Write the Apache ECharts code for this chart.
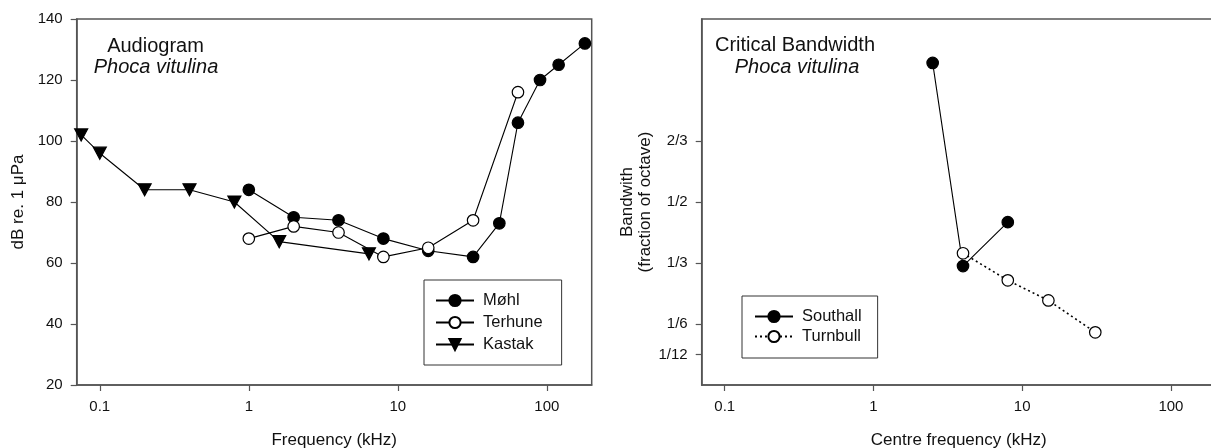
<!DOCTYPE html>
<html>
<head>
<meta charset="utf-8">
<title>Phoca vitulina - audiogram and critical bandwidth</title>
<script src="https://cdn.jsdelivr.net/npm/echarts@6/dist/echarts.min.js"></script>
<style>
  html, body { margin: 0; padding: 0; background: #fff; }
  #chart { width: 1211px; height: 448px; }
</style>
</head>
<body>
<div id="chart"></div>
<script>
// audiogram: [frequency kHz, dB re. 1 uPa]
const mohl = [[1, 84], [2, 75], [4, 74], [8, 68], [16, 64], [32, 62], [48, 73], [64, 106], [90, 120], [120, 125], [180, 132]]
const terhune = [[1, 68], [2, 72], [4, 70], [8, 62], [16, 65], [32, 74], [64, 116]]
const kastak = [[0.075, 102], [0.1, 96], [0.2, 84], [0.4, 84], [0.8, 80], [1.6, 67], [6.4, 63]]

// critical bandwidth: [centre frequency kHz, fraction of octave]
const southall = [[2.5, 0.88], [4, 0.325], [8, 0.445]]
const turnbull = [[4, 0.36], [8, 0.286], [15, 0.231], [31, 0.144]]

const freqTicks = [0.1, 1, 10, 100]
const bwTicks = [1 / 12, 1 / 6, 1 / 3, 1 / 2, 2 / 3]
const bwTickLabels = ['1/12', '1/6', '1/3', '1/2', '2/3']

const FONT = '"Liberation Sans", Arial, sans-serif'
const AXIS_COLOR = '#555'

function axisBase() {
  return {
    axisLine: { show: true, lineStyle: { color: AXIS_COLOR, width: 1.5 } },
    axisTick: { show: true, inside: false, length: 6, lineStyle: { color: AXIS_COLOR, width: 1.2 } },
    axisLabel: { color: '#111', fontSize: 15, fontFamily: FONT, margin: 14 },
    splitLine: { show: false },
    nameTextStyle: { color: '#111', fontSize: 17, fontFamily: FONT }
  }
}

function freqAxis(gridIndex, name) {
  const a = axisBase()
  return Object.assign(a, {
    type: 'log',
    gridIndex: gridIndex,
    logBase: 10,
    min: 0.07,
    max: 200,
    name: name,
    nameLocation: 'middle',
    nameGap: 47,
    axisTick: Object.assign(a.axisTick, { customValues: freqTicks }),
    axisLabel: Object.assign(a.axisLabel, {
      customValues: freqTicks,
      margin: 14,
      formatter: v => String(+v.toPrecision(3))
    })
  })
}

function lineSeries(name, data, filled, extra) {
  return Object.assign({
    name: name,
    type: 'line',
    data: data,
    symbol: 'circle',
    symbolSize: 11.5,
    showAllSymbol: true,
    animation: false,
    lineStyle: { color: '#000', width: 1.1 },
    itemStyle: { color: filled ? '#000' : '#fff', borderColor: '#000', borderWidth: 1.2, opacity: 1 }
  }, extra || {})
}

const chart = echarts.init(document.getElementById('chart'), null, { renderer: 'canvas' })

chart.setOption({
  backgroundColor: '#fff',
  textStyle: { fontFamily: FONT },
  grid: [
    { left: 76.7, top: 19, width: 515, height: 366, outerBoundsMode: 'none', containLabel: false, show: true, borderColor: AXIS_COLOR, borderWidth: 1.5 },
    { left: 701.7, top: 19, width: 514, height: 366, outerBoundsMode: 'none', containLabel: false, show: true, borderColor: AXIS_COLOR, borderWidth: 1.5 }
  ],
  xAxis: [
    freqAxis(0, 'Frequency (kHz)'),
    freqAxis(1, 'Centre frequency (kHz)')
  ],
  yAxis: [
    Object.assign(axisBase(), {
      type: 'value',
      gridIndex: 0,
      min: 20,
      max: 140,
      interval: 20,
      name: 'dB re. 1 \u03bcPa',
      nameLocation: 'middle',
      nameGap: 50
    }),
    (function () {
      const a = axisBase()
      return Object.assign(a, {
        type: 'value',
        gridIndex: 1,
        min: 0,
        max: 1,
        name: 'Bandwith\n(fraction of octave)',
        nameLocation: 'middle',
        nameGap: 43,
        nameTextStyle: Object.assign(a.nameTextStyle, { lineHeight: 18 }),
        axisTick: Object.assign(a.axisTick, { customValues: bwTicks }),
        axisLabel: Object.assign(a.axisLabel, {
          customValues: bwTicks,
          formatter: v => {
            let best = 0
            bwTicks.forEach((t, i) => { if (Math.abs(t - v) < Math.abs(bwTicks[best] - v)) best = i })
            return bwTickLabels[best]
          }
        })
      })
    })()
  ],
  legend: [
    {
      data: ['Møhl', 'Terhune', 'Kastak'],
      orient: 'vertical',
      left: 424,
      top: 280,
      padding: [12, 19, 12, 11],
      itemGap: 5,
      itemWidth: 38,
      itemHeight: 14,
      borderColor: '#333',
      borderWidth: 1,
      backgroundColor: '#fff',
      selectedMode: false,
      textStyle: { color: '#111', fontSize: 16.5, fontFamily: FONT, padding: [0, 0, 0, 4] }
    },
    {
      data: ['Southall', 'Turnbull'],
      orient: 'vertical',
      left: 742,
      top: 296,
      padding: [12, 16, 13, 12],
      itemGap: 3,
      itemWidth: 38,
      itemHeight: 14,
      borderColor: '#333',
      borderWidth: 1,
      backgroundColor: '#fff',
      selectedMode: false,
      textStyle: { color: '#111', fontSize: 16.5, fontFamily: FONT, padding: [0, 0, 0, 4] }
    }
  ],
  graphic: [
    { type: 'text', position: [155.5, 46], style: { text: 'Audiogram', font: '20px ' + FONT, fill: '#111', align: 'center', verticalAlign: 'middle' } },
    { type: 'text', position: [156, 67], style: { text: 'Phoca vitulina', font: 'italic 20px ' + FONT, fill: '#111', align: 'center', verticalAlign: 'middle' } },
    { type: 'text', position: [795, 45], style: { text: 'Critical Bandwidth', font: '20px ' + FONT, fill: '#111', align: 'center', verticalAlign: 'middle' } },
    { type: 'text', position: [797, 67], style: { text: 'Phoca vitulina', font: 'italic 20px ' + FONT, fill: '#111', align: 'center', verticalAlign: 'middle' } }
  ],
  series: [
    lineSeries('Møhl', mohl, true, { xAxisIndex: 0, yAxisIndex: 0 }),
    lineSeries('Terhune', terhune, false, { xAxisIndex: 0, yAxisIndex: 0 }),
    lineSeries('Kastak', kastak, true, { xAxisIndex: 0, yAxisIndex: 0, symbol: 'triangle', symbolRotate: 180, symbolSize: [13, 12] }),
    lineSeries('Southall', southall, true, { xAxisIndex: 1, yAxisIndex: 1 }),
    lineSeries('Turnbull', turnbull, false, { xAxisIndex: 1, yAxisIndex: 1, lineStyle: { color: '#000', width: 1.6, type: [2, 3] } })
  ]
})
</script>
</body>
</html>
